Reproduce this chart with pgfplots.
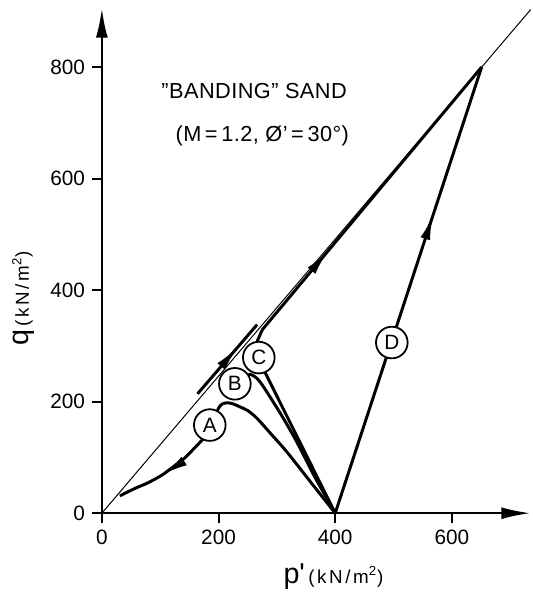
\documentclass[border=0pt]{standalone}
\usepackage{fontspec}
\setmainfont{Liberation Sans}
\newfontfamily\lsfont[LetterSpace=14]{Liberation Sans}
\newfontfamily\tsfont[LetterSpace=2]{Liberation Sans}
\usepackage{pgfplots}
\pgfplotsset{compat=1.18}
\usetikzlibrary{arrows.meta,decorations.markings}

\tikzset{
  pth/.style={line width=1.5pt, black},
  arr/.style={postaction={decorate}, decoration={markings, mark=at position #1 with {\arrow{Latex[length=13pt,width=5pt]}}}},
  lbl/.style={circle, draw, line width=0.9pt, fill=white, minimum size=16pt, inner sep=0pt, font=\fontsize{10.5}{12}\selectfont},
}

\begin{document}
\begin{tikzpicture}
\begin{axis}[
  x=0.295pt, y=0.282pt,
  xmin=0, xmax=735.6, ymin=0, ymax=906,
  axis lines=left,
  axis line style={line width=1.3pt},
  x axis line style={-{Latex[length=15pt,width=6pt]}},
  y axis line style={-{Latex[length=15pt,width=6pt]}},
  xtick={0,200,400,600}, ytick={0,200,400,600,800},
  tick align=outside,
  major tick length=5pt,
  tick style={line width=1pt, black},
  /pgf/number format/assume math mode=true,
  tick label style={font=\fontsize{10.5}{12}\selectfont},
  clip=false,
]
% invisible frame fixing the picture's extent
\path (axis cs:-174.6,-136.5) (axis cs:735.6,920.2);

% critical state line
\addplot[line width=0.5pt, black] coordinates {(0,0) (735,903)};

% path D
\addplot[pth, arr=0.67] coordinates {(400,0) (651,800)};
% path along the CSL towards the top
\addplot[pth, arr=0.3] coordinates {(275,329) (651,800)};
% short segment beside CSL
\addplot[pth, arr=0.68] coordinates {(164,214) (266,338)};
% path C
\addplot[pth] coordinates {(400,0) (280,252) (268,290) (267,310) (275,329)};
% path B
\addplot[pth, smooth] coordinates {(400,0) (365,65) (334,128) (310,172) (294,199) (280,222) (270,237) (262,245) (254,249) (248,247) (243,243)};
% path A
\addplot[pth, smooth, postaction={decorate}, decoration={markings, mark=at position -24pt with {\arrow{Latex[length=13pt,width=5pt]}}}] coordinates {(400,0) (360,53) (317,110) (290,142) (266,170) (250,184) (238,190) (225,196) (215,198) (207,196) (201,190) (192,170) (183,150) (174,134) (158,116) (142,99) (122,83) (104,69) (80,55) (58,45) (42,37) (31,31)};

% circled labels
\node[lbl] at (axis cs:185,158) {A};
\node[lbl] at (axis cs:228,232) {B};
\node[lbl] at (axis cs:269,279) {C};
\node[lbl] at (axis cs:497,306) {D};

% title text
\node[font=\tsfont\fontsize{11}{13}\selectfont] at (axis cs:261,757) {”BANDING” SAND};
\node[font=\tsfont\fontsize{11}{13}\selectfont] at (axis cs:275,676) {(M\,=\,1.2, Ø’\,=\,30°)};

% axis labels
\node[anchor=base] at (axis cs:397,-126) {{\fontsize{14.5}{16}\selectfont p\textquotesingle}\,{\lsfont\fontsize{9.5}{11}\selectfont (kN/m\textsuperscript{2})}};
\node[anchor=base, rotate=90] at (axis cs:-125,385) {{\fontsize{14.5}{16}\selectfont q}\,{\lsfont\fontsize{9.5}{11}\selectfont (kN/m\textsuperscript{2})}};
\end{axis}
\end{tikzpicture}
\end{document}
